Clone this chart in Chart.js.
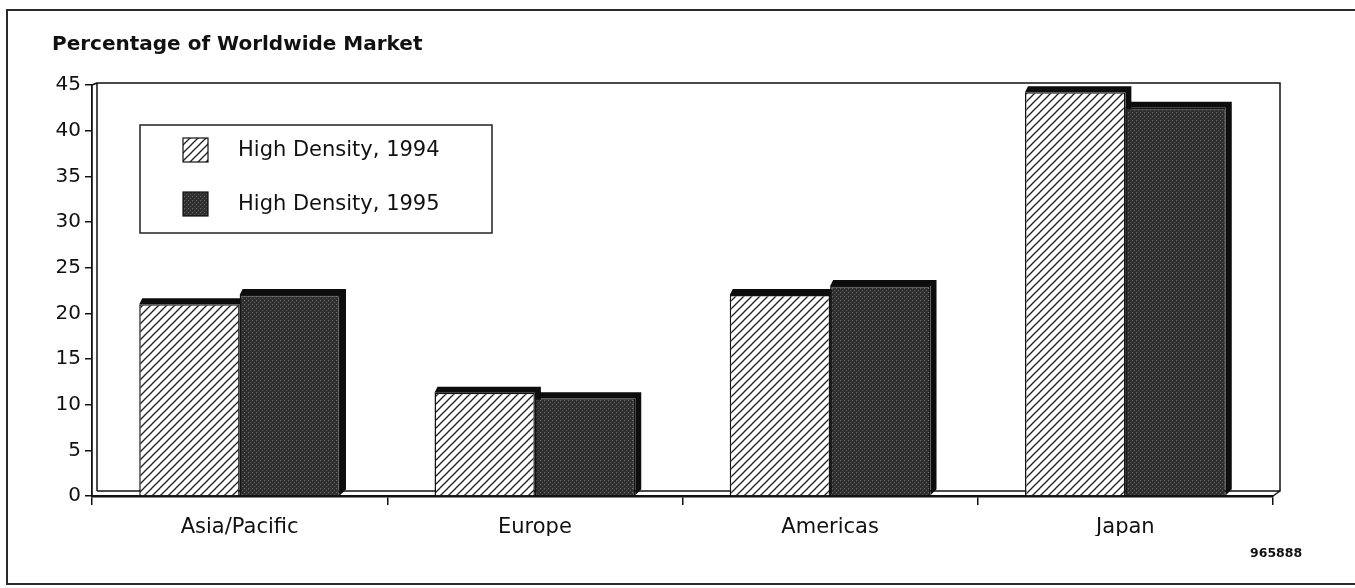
<!DOCTYPE html>
<html>
<head>
<meta charset="utf-8">
<script src="https://cdn.jsdelivr.net/npm/chart.js@4"></script>
<style>
  html, body { margin: 0; padding: 0; background: #fff; }
  #c { display: block; }
</style>
</head>
<body>
<canvas id="c" width="1355" height="588"></canvas>
<script>
// Market share by region, high-density products
const categories = ['Asia/Pacific', 'Europe', 'Americas', 'Japan'];
const seriesLabels = ['High Density, 1994', 'High Density, 1995'];
const share1994 = [21, 11.3, 22, 44.2];
const share1995 = [22, 10.7, 23, 42.5];
const yMax = 45;
const yStep = 5;
const chartTitle = 'Percentage of Worldwide Market';
const figureCode = '965888';

const FONT = '"DejaVu Sans", "Liberation Sans", Arial, sans-serif';
const DEPTH = 6;

// Diagonal hatch fill
function makeHatch() {
  const s = 8;
  const c = document.createElement('canvas');
  c.width = s; c.height = s;
  const g = c.getContext('2d');
  g.fillStyle = '#fff';
  g.fillRect(0, 0, s, s);
  g.strokeStyle = '#222';
  g.lineWidth = 1.3;
  g.lineCap = 'square';
  [[0, s, s, 0], [-s / 2, s / 2, s / 2, -s / 2], [s / 2, s + s / 2, s + s / 2, s / 2]].forEach(l => {
    g.beginPath(); g.moveTo(l[0], l[1]); g.lineTo(l[2], l[3]); g.stroke();
  });
  return g.createPattern(c, 'repeat');
}

// Dark stippled fill
function makeStipple() {
  const s = 4;
  const c = document.createElement('canvas');
  c.width = s; c.height = s;
  const g = c.getContext('2d');
  g.fillStyle = '#303030';
  g.fillRect(0, 0, s, s);
  g.fillStyle = '#727272';
  g.fillRect(0, 0, 1, 1);
  g.fillStyle = '#585858';
  g.fillRect(2, 2, 1, 1);
  return g.createPattern(c, 'repeat');
}

const hatch = makeHatch();
const stipple = makeStipple();

// Page frame, title and figure code
const framePlugin = {
  id: 'frame',
  beforeDraw(chart) {
    const ctx = chart.ctx;
    ctx.save();
    ctx.fillStyle = '#fff';
    ctx.fillRect(0, 0, chart.width, chart.height);
    ctx.strokeStyle = '#2a2a2a';
    ctx.lineWidth = 2;
    ctx.beginPath();
    ctx.moveTo(chart.width, 10);
    ctx.lineTo(7, 10);
    ctx.lineTo(7, 584);
    ctx.lineTo(chart.width, 584);
    ctx.stroke();
    ctx.restore();
  },
  afterDraw(chart) {
    const ctx = chart.ctx;
    ctx.save();
    ctx.fillStyle = '#111';
    ctx.textBaseline = 'middle';
    ctx.textAlign = 'left';
    ctx.font = 'bold 20px ' + FONT;
    ctx.fillText(chartTitle, 52, 45);
    ctx.font = 'bold 12.5px ' + FONT;
    ctx.fillText(figureCode, 1250, 554);
    ctx.restore();
  }
};

// Back wall, floor and bar extrusions
const depthPlugin = {
  id: 'depth',
  beforeDatasetsDraw(chart) {
    const ctx = chart.ctx;
    const { left, right, top, bottom } = chart.chartArea;
    ctx.save();
    ctx.strokeStyle = '#111';
    ctx.lineWidth = 1.5;
    ctx.beginPath();
    ctx.moveTo(left + 5, bottom - 5);
    ctx.lineTo(left + 5, top - 2);
    ctx.lineTo(right + 7, top - 2);
    ctx.lineTo(right + 7, bottom - 5);
    ctx.lineTo(left + 5, bottom - 5);
    ctx.moveTo(left, top);
    ctx.lineTo(left + 5, top - 2);
    ctx.moveTo(right + 7, bottom - 5);
    ctx.lineTo(right, bottom);
    ctx.stroke();

    chart.data.datasets.forEach((ds, i) => {
      const meta = chart.getDatasetMeta(i);
      meta.data.forEach(bar => {
        const p = bar.getProps(['x', 'y', 'base', 'width'], true);
        const l = p.x - p.width / 2;
        const r = p.x + p.width / 2;
        ctx.fillStyle = '#0d0d0d';
        ctx.beginPath();
        ctx.moveTo(l, p.y);
        ctx.lineTo(l + 3, p.y - DEPTH);
        ctx.lineTo(r + DEPTH, p.y - DEPTH);
        ctx.lineTo(r + DEPTH, p.base - DEPTH);
        ctx.lineTo(r, p.base);
        ctx.lineTo(r, p.y);
        ctx.closePath();
        ctx.fill();
      });
    });
    ctx.restore();
  }
};

// Boxed legend inside the plot
const boxLegendPlugin = {
  id: 'boxLegend',
  afterDatasetsDraw(chart) {
    const ctx = chart.ctx;
    ctx.save();
    ctx.fillStyle = '#fff';
    ctx.fillRect(140, 125, 352, 108);
    ctx.strokeStyle = '#222';
    ctx.lineWidth = 1.5;
    ctx.strokeRect(140, 125, 352, 108);
    chart.data.datasets.forEach((ds, i) => {
      const cy = 150 + i * 54;
      ctx.fillStyle = ds.backgroundColor;
      ctx.fillRect(183, cy - 12, 25, 24);
      ctx.strokeStyle = '#111';
      ctx.lineWidth = 1.2;
      ctx.strokeRect(183, cy - 12, 25, 24);
      ctx.fillStyle = '#111';
      ctx.font = '21px ' + FONT;
      ctx.textAlign = 'left';
      ctx.textBaseline = 'middle';
      ctx.fillText(ds.label, 238, cy + 1);
    });
    ctx.restore();
  }
};

new Chart(document.getElementById('c'), {
  type: 'bar',
  data: {
    labels: categories,
    datasets: [
      {
        label: seriesLabels[0],
        data: share1994,
        backgroundColor: hatch,
        borderColor: '#111',
        borderWidth: 1.5,
        categoryPercentage: 0.68,
        barPercentage: 1.0
      },
      {
        label: seriesLabels[1],
        data: share1995,
        backgroundColor: stipple,
        borderColor: '#151515',
        borderWidth: 1.5,
        categoryPercentage: 0.68,
        barPercentage: 1.0
      }
    ]
  },
  options: {
    responsive: false,
    devicePixelRatio: 1,
    animation: false,
    layout: { padding: { left: 52, top: 85, right: 82, bottom: 52 } },
    plugins: {
      legend: { display: false },
      title: { display: false },
      tooltip: { enabled: false }
    },
    scales: {
      x: {
        grid: {
          display: true,
          drawOnChartArea: false,
          drawTicks: true,
          tickLength: 9,
          color: '#111',
          lineWidth: 1.5,
          offset: true
        },
        border: { display: true, color: '#111', width: 2.5 },
        ticks: {
          color: '#111',
          font: { family: FONT, size: 21 },
          padding: 10,
          maxRotation: 0
        },
        afterFit(scale) { scale.height = 40; }
      },
      y: {
        min: 0,
        max: yMax,
        grid: {
          display: true,
          drawOnChartArea: false,
          drawTicks: true,
          tickLength: 7,
          color: '#111',
          lineWidth: 1.5
        },
        border: { display: true, color: '#111', width: 1.8 },
        ticks: {
          stepSize: yStep,
          color: '#111',
          padding: 4,
          font: { family: FONT, size: 20 }
        },
        afterFit(scale) { scale.width = 40; }
      }
    }
  },
  plugins: [framePlugin, depthPlugin, boxLegendPlugin]
});
</script>
</body>
</html>
